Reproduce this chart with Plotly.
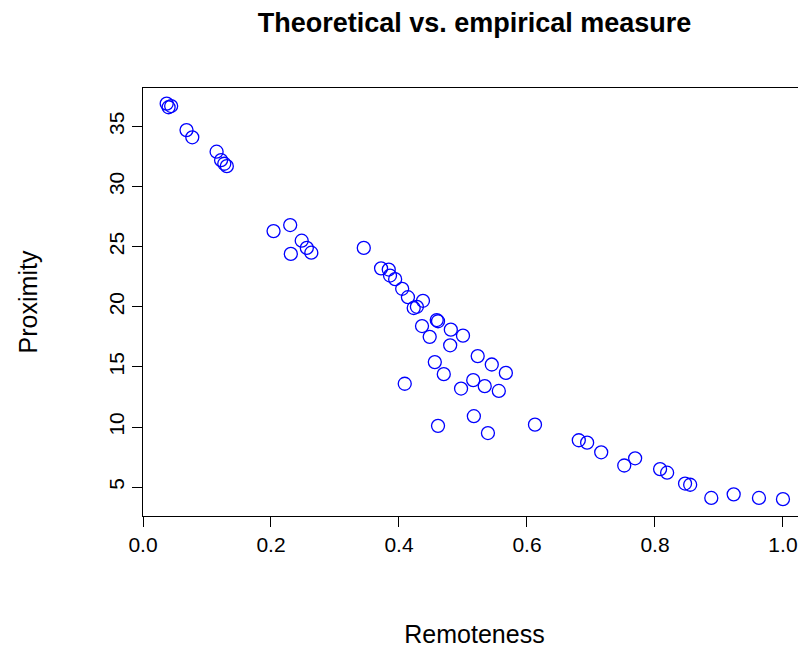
import plotly.graph_objects as go

remoteness = [0.037,0.040,0.044,0.068,0.077,0.115,0.122,0.127,0.131,0.204,0.230,0.231,0.248,0.256,0.263,
 0.345,0.372,0.384,0.386,0.394,0.405,0.414,0.4375,0.423,0.428,0.436,0.448,0.459,0.461,0.481,0.500,0.480,
 0.523,0.456,0.545,0.567,0.470,0.409,0.516,0.497,0.534,0.556,0.517,0.461,0.539,0.6125,
 0.681,0.694,0.716,0.752,0.769,0.808,0.819,0.847,0.855,0.888,0.923,0.9625,1.0]
proximity = [36.9,36.6,36.7,34.7,34.1,32.9,32.2,31.9,31.7,26.3,26.8,24.4,25.5,24.9,24.5,
 24.9,23.2,23.1,22.6,22.3,21.5,20.8,20.5,19.9,20.0,18.4,17.5,18.9,18.8,18.1,17.6,16.8,
 15.9,15.4,15.2,14.5,14.4,13.6,13.9,13.2,13.4,13.0,10.9,10.1,9.5,10.2,
 8.9,8.7,7.9,6.8,7.4,6.5,6.2,5.3,5.2,4.1,4.4,4.1,4.0]

fig = go.Figure(go.Scatter(x=remoteness, y=proximity, mode="markers",
    marker=dict(symbol="circle-open", size=13, color="blue", line=dict(width=1.3))))
font = "Liberation Sans, Arial, sans-serif"
fig.update_layout(
    width=806, height=648, plot_bgcolor="white", paper_bgcolor="white",
    margin=dict(l=135, r=8, t=80, b=140, autoexpand=False), showlegend=False,
    font=dict(family=font, size=21, color="black"),
    title=dict(text="<b>Theoretical vs. empirical measure</b>", x=0.5, xref="paper", xanchor="center",
               y=0.978, yanchor="middle", font=dict(size=27)),
)
fig.update_xaxes(range=[0, 1.036], tickvals=[0,0.2,0.4,0.6,0.8,1.0], ticktext=["0.0","0.2","0.4","0.6","0.8","1.0"],
    showgrid=False, zeroline=False, showline=True, mirror=True, linecolor="black", linewidth=1,
    ticks="outside", ticklen=10, tickcolor="black", automargin=False,
    title=dict(text="Remoteness", standoff=70))
fig.update_yaxes(range=[2.6, 38.2], tickvals=[5,10,15,20,25,30,35], tickangle=-90,
    showgrid=False, zeroline=False, showline=True, mirror=True, linecolor="black", linewidth=1,
    ticks="outside", ticklen=10, tickcolor="black", automargin=False,
    title=dict(text="Proximity", standoff=59))
fig.write_html("out.html")
